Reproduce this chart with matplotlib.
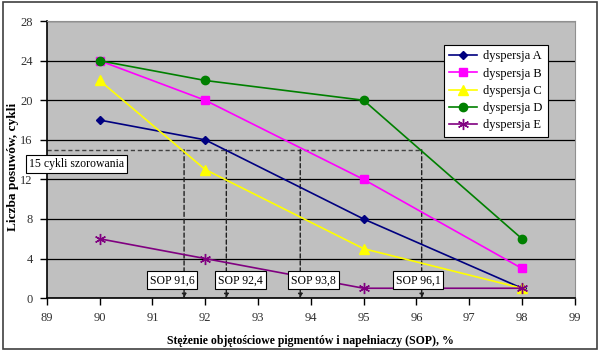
import matplotlib.pyplot as plt
from matplotlib.patches import Rectangle

# --- Data ---
sop = [90, 92, 95, 98]
disp_a = [18, 16, 8, 1]
disp_b = [24, 20, 12, 3]
disp_c = [22, 13, 5, 1]
disp_d = [24, 22, 20, 6]
disp_e = [6, 4, 1, 1]

threshold = 15
sop_marks = [91.6, 92.4, 93.8, 96.1]
sop_labels = ["SOP 91,6", "SOP 92,4", "SOP 93,8", "SOP 96,1"]
label_x = [91.37, 92.67, 94.05, 96.03]

plt.rcParams["font.family"] = ["Liberation Serif", "DejaVu Serif"]

fig = plt.figure(figsize=(6, 3.52), dpi=100)
ax = fig.add_axes([0.078, 0.153, 0.880, 0.787])
ax.set_facecolor("#c0c0c0")

series = [
    ("dyspersja A", disp_a, "#000080", "D", 4),
    ("dyspersja B", disp_b, "#ff00ff", "s", 6),
    ("dyspersja C", disp_c, "#ffff00", "^", 7),
    ("dyspersja D", disp_d, "#008000", "o", 6),
    ("dyspersja E", disp_e, "#800080", (6, 2, 0), 8),
]
for name, vals, col, mk, ms in series:
    ax.plot(sop, vals, color=col, marker=mk, markersize=ms, linewidth=1.2,
            markeredgecolor=col, label=name, zorder=3)

# threshold and SOP guide lines
ax.plot([89, max(sop_marks)], [threshold, threshold], color="#404040",
        linestyle=(0, (3, 2)), linewidth=1, zorder=2)
for x in sop_marks:
    ax.annotate("", xy=(x, 0), xytext=(x, threshold),
                arrowprops=dict(arrowstyle="-|>", color="#202020", lw=1,
                                linestyle=(0, (3, 2)), mutation_scale=6,
                                shrinkA=0, shrinkB=0), zorder=2)
for lx, lab in zip(label_x, sop_labels):
    ax.text(lx, 1.8, lab, ha="center", va="center", fontsize=8.5,
            bbox=dict(boxstyle="square,pad=0.25", fc="white", ec="black", lw=0.8),
            zorder=4)
ax.text(89.57, 13.6, "15 cykli szorowania", ha="center", va="center",
        fontsize=8.5, clip_on=False,
        bbox=dict(boxstyle="square,pad=0.25", fc="white", ec="black", lw=0.8),
        zorder=4)

ax.set_xlim(89, 99)
ax.set_ylim(0, 28)
ax.set_xticks(range(89, 100))
ax.set_yticks(range(0, 29, 4))
ax.yaxis.grid(True, color="black", linewidth=0.9)
ax.set_axisbelow(True)
ax.tick_params(labelsize=9, direction="out", length=5, width=1, pad=5,
               labelcolor="#303030")
for s in ["top", "right"]:
    ax.spines[s].set_color("#909090")
for s in ["left", "bottom"]:
    ax.spines[s].set_linewidth(1.2)

fig.text(0.517, 0.031, "Stężenie objętościowe pigmentów i napełniaczy (SOP), %",
         fontsize=8.5, fontweight="bold", ha="center", va="center")
fig.text(0.0217, 0.526, "Liczba posuwów, cykli", fontsize=9.6,
         fontweight="bold", ha="center", va="center", rotation=90)

leg = ax.legend(loc="upper right", bbox_to_anchor=(0.961, 0.937), fontsize=9,
                frameon=True, fancybox=False, edgecolor="black",
                handlelength=2.2, borderpad=0.45, labelspacing=0.42,
                handletextpad=0.5)
leg.get_frame().set_linewidth(0.8)
leg.get_frame().set_facecolor("white")
leg.get_frame().set_alpha(1)

fig.patches.append(Rectangle((0.005, 0.008), 0.99, 0.985, transform=fig.transFigure,
                             fill=False, edgecolor="#404040", linewidth=1.2))

fig.savefig("out.png", dpi=100)
